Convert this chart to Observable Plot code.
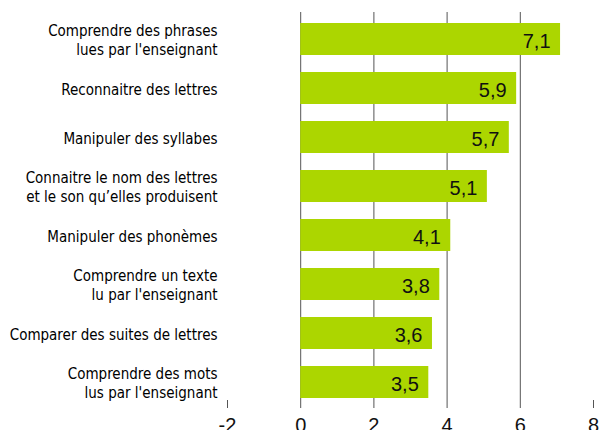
<!DOCTYPE html>
<html><head><meta charset="utf-8">
<script src="https://cdn.jsdelivr.net/npm/d3@7"></script>
<script src="https://cdn.jsdelivr.net/npm/@observablehq/plot@0.6"></script>
<style>body{margin:0;background:#fff}</style>
</head><body><div id="chart"></div>
<script>
const categories = [
  "Comprendre des phrases\nlues par l'enseignant",
  "Reconnaitre des lettres",
  "Manipuler des syllabes",
  "Connaitre le nom des lettres\net le son qu’elles produisent",
  "Manipuler des phonèmes",
  "Comprendre un texte\nlu par l'enseignant",
  "Comparer des suites de lettres",
  "Comprendre des mots\nlus par l'enseignant"
];
const values = [7.1, 5.9, 5.7, 5.1, 4.1, 3.8, 3.6, 3.5];
const xTicks = [-2, 0, 2, 4, 6, 8];
const gridTicks = [0, 2, 4, 6];

const data = categories.map((c, i) => ({cat: c, v: values[i]}));
const fmt = v => v.toFixed(1).replace(".", ",");

const chart = Plot.plot({
  width: 600,
  height: 430,
  marginLeft: 227,
  marginRight: 7,
  marginTop: 12,
  marginBottom: 30,
  style: {fontFamily: "Liberation Sans, Arial, sans-serif", background: "#fff"},
  x: {domain: [-2, 8], label: null},
  y: {domain: categories, range: [4.75, 416.25], padding: 0.35, label: null},
  marks: [
    Plot.gridX(gridTicks, {stroke: "#555", strokeOpacity: 1}),
    Plot.axisX(xTicks, {tickSize: 8, tickPadding: 9, fontSize: 20, stroke: "#555", color: "#111", label: null, tickFormat: d => d < 0 ? "-" + Math.abs(d) : String(d)}),
    Plot.axisY({tickSize: 0, tickPadding: 10, fontSize: 15, lineHeight: 1.3, fontFamily: "DejaVu Sans Condensed, Roboto, sans-serif", color: "#000", label: null}),
    Plot.barX(data, {x: "v", y: "cat", fill: "#acd600"}),
    Plot.text(data, {x: "v", y: "cat", text: d => fmt(d.v), textAnchor: "end", dx: -10, dy: 2, fontSize: 20, fill: "#111"})
  ]
});
document.getElementById("chart").append(chart);
</script>
</body></html>
